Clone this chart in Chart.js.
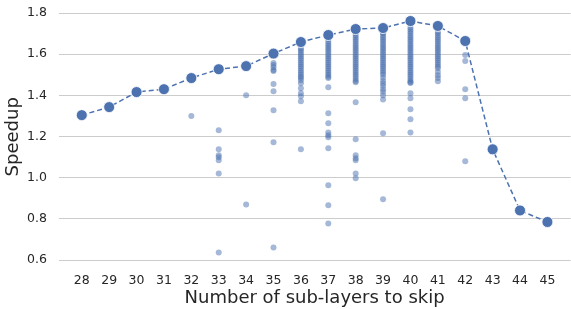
<!DOCTYPE html>
<html>
<head>
<meta charset="utf-8">
<script src="https://cdn.jsdelivr.net/npm/chart.js@4.4.0/dist/chart.umd.min.js"></script>
<style>
  html, body { margin: 0; padding: 0; background: #fff; overflow: hidden; }
  #outer { width: 571px; height: 309px; overflow: hidden; }
  /* slightly wider than the page: chart.js keeps ~6px spare on the right */
  #wrap { width: 577px; height: 309px; position: relative; }
</style>
</head>
<body>
<div id="outer"><div id="wrap"><canvas id="chart"></canvas></div></div>
<script>
// Number of sub-layers skipped (x ticks)
const layers = [28, 29, 30, 31, 32, 33, 34, 35, 36, 37, 38, 39, 40, 41, 42, 43, 44, 45];
// Best speedup per layer count (dashed line)
const bestSpeedup = [1.304, 1.343, 1.416, 1.43, 1.484, 1.527, 1.542, 1.603, 1.659, 1.693,
                     1.722, 1.727, 1.761, 1.737, 1.664, 1.138, 0.841, 0.785];
const yTicks = [0.6, 0.8, 1.0, 1.2, 1.4, 1.6, 1.8];

// Individual configurations per layer count (faint dots)
const skip32 = [1.30];
const skip33 = [1.23, 1.138, 1.109, 1.10, 1.085, 1.02, 0.637];
const skip34 = [1.40, 0.87];
const skip35 = [1.557, 1.547, 1.537, 1.523, 1.518, 1.455, 1.42, 1.328, 1.172, 0.661];
const skip36 = [1.628, 1.62, 1.61, 1.60, 1.59, 1.58, 1.57, 1.56, 1.55, 1.54, 1.53, 1.52, 1.51,
                1.50, 1.49, 1.484, 1.474, 1.459, 1.435, 1.41, 1.396, 1.372, 1.138];
const skip37 = [1.672, 1.66, 1.65, 1.64, 1.63, 1.62, 1.61, 1.60, 1.59, 1.58, 1.57, 1.56, 1.55,
                1.54, 1.53, 1.52, 1.51, 1.50, 1.49, 1.484, 1.44, 1.313, 1.265, 1.22, 1.206,
                1.197, 1.143, 0.963, 0.866, 0.778];
const skip38 = [1.708, 1.70, 1.69, 1.68, 1.67, 1.66, 1.65, 1.64, 1.63, 1.62, 1.61, 1.60, 1.59,
                1.58, 1.57, 1.56, 1.55, 1.54, 1.53, 1.52, 1.51, 1.50, 1.49, 1.48, 1.47, 1.464,
                1.367, 1.187, 1.109, 1.094, 1.085, 1.02, 0.997];
const skip39 = [1.705, 1.70, 1.69, 1.68, 1.67, 1.66, 1.65, 1.64, 1.63, 1.62, 1.61, 1.60, 1.59,
                1.58, 1.57, 1.56, 1.55, 1.54, 1.53, 1.52, 1.51, 1.50, 1.485, 1.47, 1.458, 1.445,
                1.43, 1.417, 1.40, 1.38, 1.216, 0.895];
const skip40 = [1.73, 1.72, 1.71, 1.70, 1.69, 1.68, 1.67, 1.66, 1.65, 1.64, 1.63, 1.62, 1.61,
                1.60, 1.59, 1.58, 1.57, 1.56, 1.55, 1.54, 1.53, 1.52, 1.51, 1.50, 1.49, 1.48,
                1.47, 1.464, 1.46, 1.41, 1.386, 1.333, 1.284, 1.22];
const skip41 = [1.708, 1.70, 1.69, 1.68, 1.67, 1.66, 1.65, 1.64, 1.63, 1.62, 1.61, 1.60, 1.59,
                1.58, 1.57, 1.56, 1.55, 1.54, 1.532, 1.513, 1.498, 1.484, 1.469];
const skip42 = [1.596, 1.567, 1.43, 1.386, 1.08];

const blue = '#4c72b0';
const textColor = '#262626';
const font = 'DejaVu Sans';

// build scatter points from the per-layer lists
const extraPoints = [];
[[32, skip32], [33, skip33], [34, skip34], [35, skip35], [36, skip36], [37, skip37],
 [38, skip38], [39, skip39], [40, skip40], [41, skip41], [42, skip42]].forEach(([layer, vals]) => {
    vals.forEach(v => extraPoints.push({ x: layer, y: v }));
});

const linePoints = layers.map((l, i) => ({ x: l, y: bestSpeedup[i] }));

new Chart(document.getElementById('chart'), {
    type: 'scatter',
    data: {
        datasets: [
            {
                data: linePoints,
                showLine: true,
                borderColor: blue,
                borderWidth: 1.5,
                borderDash: [5, 3],
                backgroundColor: blue,
                pointRadius: 5.5,
                pointBorderColor: '#ffffff',
                pointBorderWidth: 0.8,
                order: 0,
            },
            {
                data: extraPoints,
                backgroundColor: 'rgba(76,114,176,0.5)',
                borderWidth: 0,
                pointRadius: 3,
                order: 1,
            },
        ],
    },
    options: {
        responsive: true,
        maintainAspectRatio: false,
        animation: false,
        layout: { padding: { top: 9.5, right: 1, left: 0, bottom: 0 } },
        plugins: { legend: { display: false }, tooltip: { enabled: false } },
        scales: {
            x: {
                type: 'linear',
                min: 27.15,
                max: 45.85,
                afterBuildTicks: s => { s.ticks = layers.map(v => ({ value: v })); },
                afterFit: s => { s.height = 45; s.paddingLeft = 0; s.paddingRight = 0; },
                grid: { display: false, drawTicks: false },
                border: { display: false },
                ticks: { color: textColor, font: { family: font, size: 12.5 }, padding: 9,
                         maxRotation: 0, autoSkip: false },
                title: { display: true, text: 'Number of sub-layers to skip', color: textColor,
                         font: { family: font, size: 18 }, padding: { top: 0, bottom: 0 } },
            },
            y: {
                min: 0.581,
                max: 1.817,
                afterBuildTicks: s => { s.ticks = yTicks.map(v => ({ value: v })); },
                afterFit: s => { s.width = 58.5; s.paddingTop = 0; s.paddingBottom = 0; },
                grid: { color: '#cccccc', lineWidth: 1, drawTicks: false },
                border: { display: false },
                ticks: { color: textColor, font: { family: font, size: 12.5 }, padding: 11.5,
                         callback: v => v.toFixed(1) },
                title: { display: true, text: 'Speedup', color: textColor,
                         font: { family: font, size: 18 }, padding: { top: 3, bottom: 0 } },
            },
        },
    },
});
</script>
</body>
</html>
